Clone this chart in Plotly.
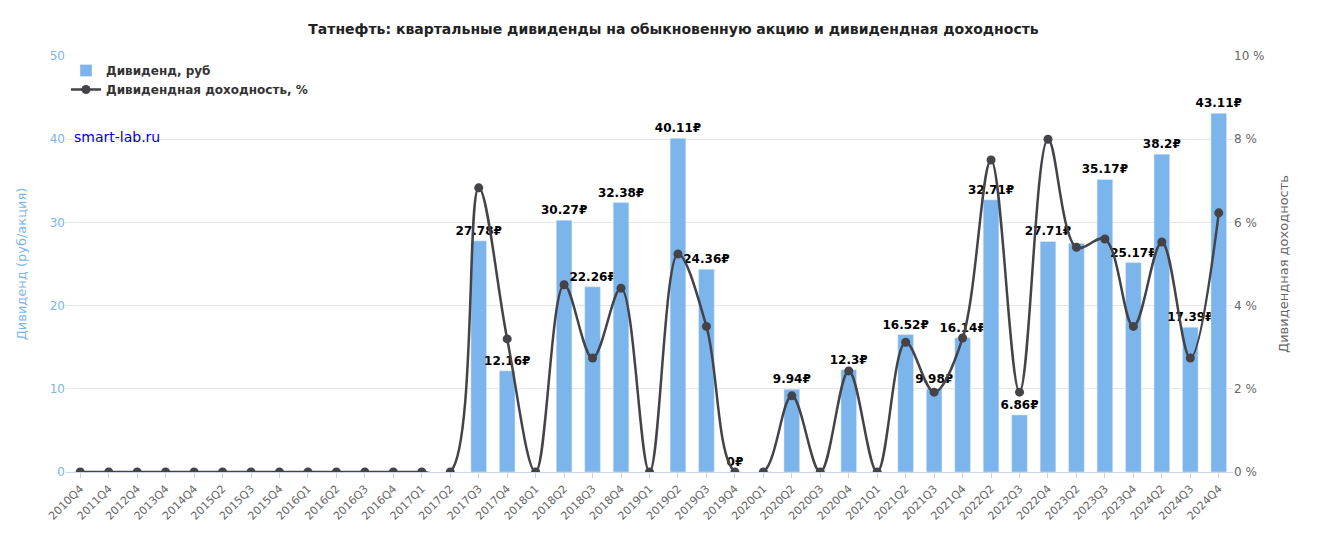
import plotly.graph_objects as go

quarters = ['2010Q4', '2011Q4', '2012Q4', '2013Q4', '2014Q4', '2015Q2', '2015Q3', '2015Q4',
            '2016Q1', '2016Q2', '2016Q3', '2016Q4', '2017Q1', '2017Q2', '2017Q3', '2017Q4',
            '2018Q1', '2018Q2', '2018Q3', '2018Q4', '2019Q1', '2019Q2', '2019Q3', '2019Q4',
            '2020Q1', '2020Q2', '2020Q3', '2020Q4', '2021Q1', '2021Q2', '2021Q3', '2021Q4',
            '2022Q2', '2022Q3', '2022Q4', '2023Q2', '2023Q3', '2023Q4', '2024Q2', '2024Q3', '2024Q4']
dividends = [0] * 14 + [27.78, 12.16, 0, 30.27, 22.26, 32.38, 0, 40.11, 24.36, 0,
                        0, 9.94, 0, 12.3, 0, 16.52, 9.98, 16.14,
                        32.71, 6.86, 27.71, 27.5, 35.17, 25.17, 38.2, 17.39, 43.11]
yields = [0] * 14 + [6.83, 3.2, 0, 4.5, 2.74, 4.42, 0, 5.24, 3.5, 0,
                     0, 1.83, 0, 2.43, 0, 3.12, 1.92, 3.22,
                     7.5, 1.92, 8.0, 5.4, 5.6, 3.5, 5.53, 2.74, 6.23]

labels = []
for q, d in zip(quarters, dividends):
    if q == '2019Q4':
        labels.append('<b>0₽</b>')
    elif d == 0 or q == '2023Q2':
        labels.append('')
    else:
        labels.append(f'<b>{d:g}₽</b>')

fig = go.Figure()
fig.add_trace(go.Bar(x=quarters, y=dividends, name='<b>Дивиденд, руб</b>', marker_color='#7cb5ec',
                     width=0.55, text=labels, textposition='outside', cliponaxis=False,
                     constraintext='none', textangle=0,
                     textfont=dict(size=12, color='black', family='DejaVu Sans')))
fig.add_trace(go.Scatter(x=quarters, y=yields, name='<b>Дивидендная доходность, %</b>', yaxis='y2',
                         mode='lines+markers', line=dict(color='#434348', width=2.5, shape='spline'),
                         marker=dict(size=9, color='#434348')))

fig.update_layout(
    width=1331, height=543, plot_bgcolor='white', paper_bgcolor='white',
    font=dict(family='DejaVu Sans, Liberation Sans', size=12, color='#333'),
    title=dict(text='<b>Татнефть: квартальные дивиденды на обыкновенную акцию и дивидендная доходность</b>',
               x=0.5, y=0.97, font=dict(size=14, color='#222')),
    margin=dict(l=58, r=106, t=48, b=79),
    bargap=0.3,
    showlegend=True,
    legend=dict(x=0.0, y=1.0, xanchor='left', yanchor='top', bgcolor='rgba(0,0,0,0)',
                font=dict(size=12, color='#333', family='DejaVu Sans')),
    xaxis=dict(tickangle=-45, tickfont=dict(size=11, color='#666'), showline=True,
               linecolor='#ccd6eb', ticks='outside', tickcolor='#ccd6eb',
               range=[-0.5, len(quarters) - 0.5], automargin=False),
    yaxis=dict(range=[0, 50], dtick=10, gridcolor='#e6e6e6', zeroline=False, automargin=False,
               tickfont=dict(color='#7cb5ec', size=12),
               title=dict(text='Дивиденд (руб/акция)', standoff=20, font=dict(color='#7cb5ec', size=13))),
    yaxis2=dict(range=[0, 10], dtick=2, overlaying='y', side='right', showgrid=False, automargin=False,
                ticksuffix=' %', zeroline=False, tickfont=dict(color='#666', size=12),
                title=dict(text='Дивидендная доходность', font=dict(color='#666', size=13))),
    annotations=[dict(text='smart-lab.ru', x=0.005, y=0.83, xref='paper', yref='paper',
                      xanchor='left', showarrow=False, font=dict(color='#0000cc', size=14))],
)

fig.write_html("out.html")
